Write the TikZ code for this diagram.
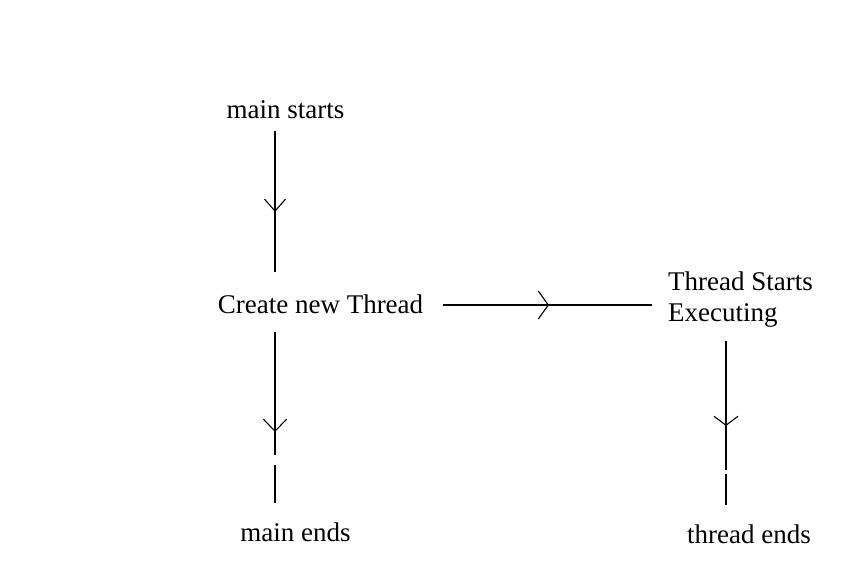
\documentclass[tikz,border=0pt]{standalone}
\usepackage{fontspec}
\setmainfont{Liberation Serif}
\usetikzlibrary{arrows.meta,decorations.markings}
\tikzset{
  lbl/.style={inner sep=0pt,font=\fontsize{27}{31}\selectfont},
  flow/.style n args={3}{line width=1.1pt,draw=black,postaction={decorate},
    decoration={markings,mark=at position #1 with {\arrow[line width=1.1pt]{Straight Barb[length=#2,width=#3]}}}}
}
\begin{document}
\begin{tikzpicture}[x=1pt,y=1pt]
\useasboundingbox (0,0) rectangle (862,571);
% text nodes
\node[lbl,anchor=base] (ms) at (285.5,452) {main starts};
\node[lbl,anchor=base] (cnt) at (320.5,258) {Create new Thread};
\node[lbl,anchor=base] (me) at (295.5,30) {main ends};
\node[lbl,anchor=base west,align=left] (tse) at (668,250) {Thread Starts\\Executing};
\node[lbl,anchor=base] (te) at (749,28) {thread ends};
% connector end points
\coordinate (a1) at (275,440);
\coordinate (a2) at (275,299);
\coordinate (b1) at (275,239);
\coordinate (b2) at (275,68);
\coordinate (c1) at (443,266);
\coordinate (c2) at (652,266);
\coordinate (d1) at (726,230);
\coordinate (d2) at (726,66);
% connectors
\draw[flow={0.574}{12pt}{21pt}] (a1) -- (a2);
\draw[flow={0.585}{12pt}{23pt},dash pattern=on 123pt off 10pt on 200pt] (b1) -- (b2);
\draw[flow={0.507}{10pt}{28pt}] (c1) -- (c2);
\draw[flow={0.518}{9pt}{24pt},dash pattern=on 129pt off 4pt on 200pt] (d1) -- (d2);
\end{tikzpicture}
\end{document}
